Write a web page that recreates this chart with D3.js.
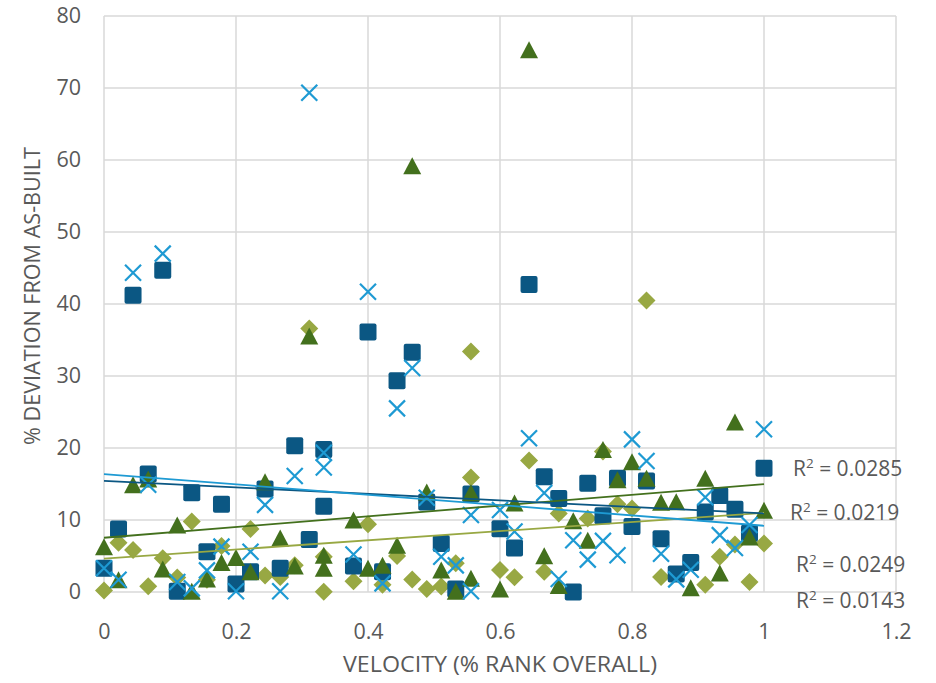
<!DOCTYPE html>
<html>
<head>
<meta charset="utf-8">
<script src="https://cdn.jsdelivr.net/npm/d3@7"></script>
<style>
  html, body { margin: 0; padding: 0; background: #ffffff; }
  svg { display: block; }
  text { font-family: "Open Sans", "Noto Sans", sans-serif; fill: #595959; }
</style>
</head>
<body>
<svg id="chart" width="936" height="683"></svg>
<script>
// Axis ticks
const xTicks = [0, 0.2, 0.4, 0.6, 0.8, 1, 1.2];
const yTicks = [0, 10, 20, 30, 40, 50, 60, 70, 80];

// Series: velocity rank (x) and % deviation (y)
const squareRank = [0, 0.022, 0.044, 0.067, 0.089, 0.111, 0.133, 0.156, 0.178, 0.2, 0.222, 0.244, 0.267, 0.289, 0.311, 0.333, 0.333, 0.378, 0.4, 0.422, 0.444, 0.467, 0.489, 0.511, 0.533, 0.556, 0.6, 0.622, 0.644, 0.667, 0.689, 0.711, 0.733, 0.756, 0.778, 0.8, 0.822, 0.844, 0.867, 0.889, 0.911, 0.933, 0.956, 0.978, 1.0];
const squareDev  = [3.3, 8.75, 41.2, 16.4, 44.7, 0.1, 13.8, 5.6, 12.2, 1.1, 2.8, 14.3, 3.3, 20.3, 7.3, 19.8, 11.9, 3.6, 36.1, 2.8, 29.35, 33.3, 12.5, 6.75, 0.4, 13.6, 8.8, 6.1, 42.7, 16.0, 13.0, 0, 15.1, 10.6, 15.8, 9.1, 15.4, 7.4, 2.5, 4.1, 11.1, 13.4, 11.5, 8.15, 17.2];

const crossRank = [0, 0.022, 0.044, 0.067, 0.089, 0.111, 0.133, 0.156, 0.178, 0.2, 0.222, 0.244, 0.267, 0.289, 0.311, 0.333, 0.333, 0.378, 0.4, 0.422, 0.444, 0.467, 0.489, 0.511, 0.533, 0.556, 0.556, 0.6, 0.622, 0.644, 0.667, 0.689, 0.711, 0.733, 0.756, 0.778, 0.8, 0.822, 0.844, 0.867, 0.889, 0.911, 0.933, 0.956, 0.978, 1.0];
const crossDev  = [3.3, 1.7, 44.35, 14.9, 47.0, 1.4, 0.5, 3.0, 6.3, 0.1, 5.6, 12.1, 0.1, 16.1, 69.35, 19.35, 17.3, 5.2, 41.7, 1.2, 25.5, 31.1, 13.1, 4.9, 3.7, 10.7, 0.1, 11.4, 8.4, 21.35, 13.75, 1.8, 7.2, 4.5, 7.1, 5.1, 21.2, 18.2, 5.3, 1.75, 3.1, 13.15, 7.9, 6.1, 9.3, 22.6];

const triangleRank = [0, 0.022, 0.044, 0.067, 0.089, 0.111, 0.133, 0.156, 0.178, 0.2, 0.222, 0.244, 0.267, 0.289, 0.311, 0.333, 0.333, 0.378, 0.4, 0.422, 0.444, 0.467, 0.489, 0.511, 0.533, 0.556, 0.556, 0.6, 0.622, 0.644, 0.667, 0.689, 0.711, 0.733, 0.756, 0.778, 0.8, 0.822, 0.844, 0.867, 0.889, 0.911, 0.933, 0.956, 0.978, 1.0];
const triangleDev  = [6.3, 1.7, 14.9, 15.7, 3.2, 9.3, 0.1, 1.8, 4.1, 4.8, 2.8, 15.3, 7.5, 3.6, 35.55, 5.1, 3.3, 10.0, 3.3, 3.7, 6.5, 59.2, 13.9, 3.05, 0.1, 13.8, 1.9, 0.4, 12.35, 75.3, 5.05, 0.9, 9.9, 7.2, 19.8, 15.6, 18.1, 15.8, 12.45, 12.55, 0.6, 15.8, 2.65, 23.6, 7.65, 11.35];

const diamondRank = [0, 0.022, 0.044, 0.067, 0.089, 0.111, 0.133, 0.156, 0.178, 0.222, 0.244, 0.267, 0.289, 0.311, 0.333, 0.333, 0.378, 0.4, 0.422, 0.444, 0.467, 0.489, 0.511, 0.533, 0.556, 0.556, 0.6, 0.622, 0.644, 0.667, 0.689, 0.733, 0.756, 0.778, 0.8, 0.822, 0.844, 0.911, 0.933, 0.956, 0.978, 1.0];
const diamondDev  = [0.2, 6.85, 5.85, 0.8, 4.7, 2.0, 9.8, 1.7, 6.4, 8.75, 2.3, 2.1, 3.7, 36.6, 4.9, 0.05, 1.5, 9.4, 1.0, 5.0, 1.75, 0.4, 0.75, 4.0, 15.9, 33.4, 3.05, 2.05, 18.25, 2.8, 10.9, 10.2, 19.5, 12.2, 11.6, 40.5, 2.1, 1.0, 4.9, 6.6, 1.4, 6.75];

// Reported goodness of fit for each trendline
const rSquaredLabels = ["0.0285", "0.0219", "0.0249", "0.0143"];

const colors = {
  square: "#0b5783",
  cross: "#1e9ad3",
  triangle: "#43701d",
  diamond: "#98a843"
};

const svg = d3.select("#chart");
const margin = { left: 104, right: 40, top: 16, bottom: 91 };
const W = 936, H = 683;

const x = d3.scaleLinear().domain([0, 1.2]).range([margin.left, W - margin.right]);
const y = d3.scaleLinear().domain([0, 80]).range([H - margin.bottom, margin.top]);

const fmt = d => String(+d.toFixed(1));

// Gridlines
const grid = svg.append("g").attr("class", "grid");
grid.selectAll("line.v").data(xTicks).join("line")
  .attr("x1", d => x(d)).attr("x2", d => x(d))
  .attr("y1", y(80)).attr("y2", y(0))
  .attr("stroke", "#d9d9d9").attr("stroke-width", 1.5);
grid.selectAll("line.h").data(yTicks).join("line")
  .attr("x1", x(0)).attr("x2", x(1.2))
  .attr("y1", d => y(d)).attr("y2", d => y(d))
  .attr("stroke", "#d9d9d9").attr("stroke-width", 1.5);

// Axis labels
const yAxis = svg.append("g")
  .attr("transform", `translate(${x(0)},0)`)
  .call(d3.axisLeft(y).tickValues(yTicks).tickSize(0).tickPadding(23).tickFormat(fmt));
const xAxis = svg.append("g")
  .attr("transform", `translate(0,${y(0)})`)
  .call(d3.axisBottom(x).tickValues(xTicks).tickSize(0).tickPadding(32).tickFormat(fmt));
[xAxis, yAxis].forEach(g => {
  g.select(".domain").remove();
  g.selectAll("text").attr("font-size", 21.5).attr("fill", "#595959")
    .style("font-family", '"Open Sans", sans-serif');
});

// Axis titles
svg.append("text")
  .attr("x", (x(0) + x(1.2)) / 2).attr("y", 672)
  .attr("text-anchor", "middle").attr("font-size", 21.5)
  .attr("textLength", 314).attr("lengthAdjust", "spacingAndGlyphs")
  .text("VELOCITY (% RANK OVERALL)");
svg.append("text")
  .attr("transform", `translate(40,${(y(0) + y(80)) / 2 - 8}) rotate(-90)`)
  .attr("text-anchor", "middle").attr("font-size", 21.5)
  .attr("textLength", 298).attr("lengthAdjust", "spacingAndGlyphs")
  .text("% DEVIATION FROM AS-BUILT");

const zip = (xs, ys) => xs.map((v, i) => ({ x: v, y: ys[i] }));
const squares = zip(squareRank, squareDev);
const crosses = zip(crossRank, crossDev);
const triangles = zip(triangleRank, triangleDev);
const diamonds = zip(diamondRank, diamondDev);

const marks = svg.append("g");

// Diamonds
marks.append("g").selectAll("path").data(diamonds).join("path")
  .attr("d", "M0,-9L9,0L0,9L-9,0Z")
  .attr("transform", d => `translate(${x(d.x)},${y(d.y)})`)
  .attr("fill", colors.diamond);

// Squares
marks.append("g").selectAll("rect").data(squares).join("rect")
  .attr("x", d => x(d.x) - 8.5).attr("y", d => y(d.y) - 8.5)
  .attr("width", 17).attr("height", 17).attr("rx", 2)
  .attr("fill", colors.square);

// Triangles
marks.append("g").selectAll("path").data(triangles).join("path")
  .attr("d", "M0,-8.5L9,8.5L-9,8.5Z")
  .attr("transform", d => `translate(${x(d.x)},${y(d.y)})`)
  .attr("fill", colors.triangle);

// Crosses
marks.append("g").selectAll("path").data(crosses).join("path")
  .attr("d", "M-8,-8L8,8M-8,8L8,-8")
  .attr("transform", d => `translate(${x(d.x)},${y(d.y)})`)
  .attr("stroke", colors.cross).attr("stroke-width", 2.2).attr("fill", "none");

// Least-squares trendlines over the 0..1 range
function fit(pts) {
  const mx = d3.mean(pts, d => d.x), my = d3.mean(pts, d => d.y);
  let sxy = 0, sxx = 0;
  pts.forEach(d => { sxy += (d.x - mx) * (d.y - my); sxx += (d.x - mx) ** 2; });
  const b = sxy / sxx, a = my - b * mx;
  return [{ x: 0, y: a }, { x: 1, y: a + b }];
}
const line = d3.line().x(d => x(d.x)).y(d => y(d.y));
[[diamonds, colors.diamond], [triangles, colors.triangle], [squares, colors.square], [crosses, colors.cross]]
  .forEach(([pts, c]) => {
    svg.append("path").datum(fit(pts)).attr("d", line)
      .attr("stroke", c).attr("stroke-width", 1.8).attr("fill", "none");
  });

// R² labels beside the line ends
const labelPos = [[793, 476], [790, 520], [796, 572], [796, 608]];
rSquaredLabels.forEach((v, i) => {
  const t = svg.append("text")
    .attr("x", labelPos[i][0]).attr("y", labelPos[i][1])
    .attr("font-size", 21);
  t.append("tspan").text("R");
  t.append("tspan").attr("font-size", 13.5).attr("dy", -8).text("2");
  t.append("tspan").attr("dy", 8).text(" = " + v);
});
</script>
</body>
</html>
